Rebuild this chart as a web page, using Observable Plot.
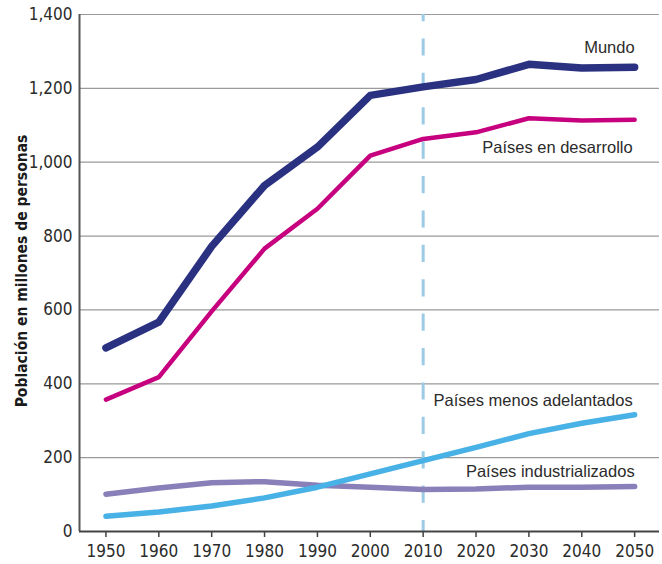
<!DOCTYPE html>
<html>
<head>
<meta charset="utf-8">
<script src="https://cdn.jsdelivr.net/npm/d3@7"></script>
<script src="https://cdn.jsdelivr.net/npm/@observablehq/plot@0.6"></script>
<style>
  html, body { margin: 0; padding: 0; background: #fff; }
  #chart svg { display: block; }
</style>
</head>
<body>
<div id="chart"></div>
<script>
const years = [1950, 1960, 1970, 1980, 1990, 2000, 2010, 2020, 2030, 2040, 2050];
const mundo = [497, 567, 772, 937, 1041, 1181, 1204, 1224, 1265, 1255, 1257];
const desarrollo = [357, 418, 596, 766, 874, 1018, 1063, 1081, 1119, 1113, 1115];
const menosAdelantados = [41, 53, 69, 91, 120, 156, 192, 228, 265, 293, 316];
const industrializados = [101, 118, 132, 135, 125, 120, 114, 115, 120, 120, 122];
const yTicks = [0, 200, 400, 600, 800, 1000, 1200, 1400];
const xTicks = years;
const markerYear = 2010;
const seriesNames = ["Mundo", "Países en desarrollo", "Países menos adelantados", "Países industrializados"];
const yTitle = "Población en millones de personas";

const toRows = (vals) => years.map((y, i) => ({year: y, value: vals[i]}));
const rowsMundo = toRows(mundo);
const rowsDes = toRows(desarrollo);
const rowsMenos = toRows(menosAdelantados);
const rowsInd = toRows(industrializados);
const last = (rows) => [rows[rows.length - 1]];

const FONT = "'Liberation Sans Narrow', 'DejaVu Sans Condensed', sans-serif";
const LABEL_FONT = "'Liberation Sans', Arial, sans-serif";
const textColor = "#2b2b2b";

const chart = Plot.plot({
  width: 662,
  height: 564,
  marginLeft: 79,
  marginRight: 3,
  marginTop: 14,
  marginBottom: 33,
  style: {fontFamily: FONT, fontSize: "17px", color: textColor, background: "#fff"},
  x: {domain: [1945, 2054.7]},
  y: {domain: [0, 1400]},
  marks: [
    Plot.ruleY(yTicks.filter(d => d > 0), {stroke: "#9a9a9a", strokeWidth: 1.2}),
    Plot.ruleX([markerYear], {y1: 1400, y2: 0, stroke: "#9ccbe6", strokeWidth: 3, strokeDasharray: "17.2,17.2", strokeDashoffset: 10}),
    Plot.line(rowsInd, {x: "year", y: "value", stroke: "#8a80b9", strokeWidth: 5.5, strokeLinecap: "round", strokeLinejoin: "round"}),
    Plot.line(rowsMenos, {x: "year", y: "value", stroke: "#48b1e6", strokeWidth: 5.5, strokeLinecap: "round", strokeLinejoin: "round"}),
    Plot.line(rowsDes, {x: "year", y: "value", stroke: "#c6007e", strokeWidth: 4.5, strokeLinecap: "round", strokeLinejoin: "round"}),
    Plot.line(rowsMundo, {x: "year", y: "value", stroke: "#2a3181", strokeWidth: 7.5, strokeLinecap: "round", strokeLinejoin: "round"}),
    Plot.ruleX([1945], {y1: 0, y2: 1400, stroke: "#555", strokeWidth: 2}),
    Plot.ruleY([0], {stroke: "#444", strokeWidth: 2}),
    Plot.axisY({ticks: yTicks, tickSize: 0, tickPadding: 7, tickFormat: d3.format(","), fontSize: 17, fill: textColor, label: null}),
    Plot.axisX({ticks: xTicks, tickSize: 6, tickPadding: 7, tickFormat: d => String(d), fontSize: 17, fill: textColor, stroke: "#444", strokeWidth: 1.5, label: null}),
    Plot.text(last(rowsMundo), {x: "year", y: "value", text: () => seriesNames[0], textAnchor: "end", lineAnchor: "bottom", dy: -14, fontFamily: LABEL_FONT, fontSize: 16.5, fill: textColor}),
    Plot.text(last(rowsDes), {x: "year", y: "value", text: () => seriesNames[1], textAnchor: "end", lineAnchor: "bottom", dx: -2, dy: 33, fontFamily: LABEL_FONT, fontSize: 16.5, fill: textColor}),
    Plot.text(last(rowsMenos), {x: "year", y: "value", text: () => seriesNames[2], textAnchor: "end", lineAnchor: "bottom", dx: -2, dy: -9, fontFamily: LABEL_FONT, fontSize: 16.5, fill: textColor}),
    Plot.text(last(rowsInd), {x: "year", y: "value", text: () => seriesNames[3], textAnchor: "end", lineAnchor: "bottom", dy: -9, fontFamily: LABEL_FONT, fontSize: 16.5, fill: textColor}),
    Plot.text([yTitle], {frameAnchor: "left", textAnchor: "middle", dx: -57, dy: -2, rotate: -90, text: d => d, fontFamily: FONT, fontWeight: "bold", fontSize: 15.5, fill: "#1a1a1a"})
  ]
});
document.getElementById("chart").append(chart);
</script>
</body>
</html>
